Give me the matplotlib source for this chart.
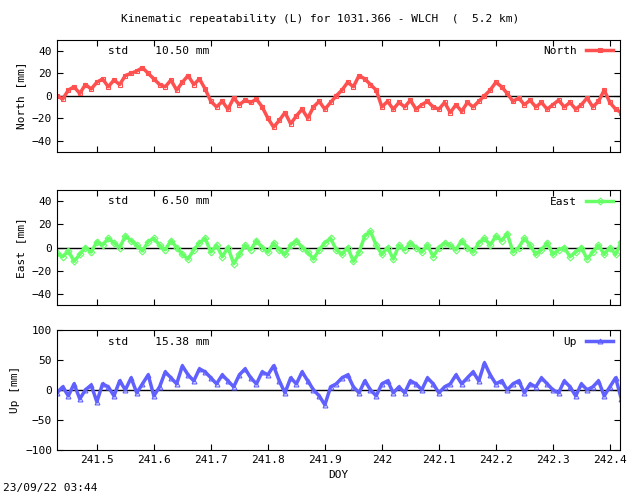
import numpy as np
import matplotlib
matplotlib.use("Agg")
import matplotlib.pyplot as plt

# day-of-year samples (one every 0.01 day)
doy = np.linspace(241.43, 242.42, 100)

north = [0, -3, 5, 8, 2, 10, 6,
         12, 15, 8, 14, 10, 18, 20, 22, 25, 20,
         15, 10, 8, 14, 5, 12, 18, 10, 15, 6,
         -5, -10, -5, -12, -2, -8, -4, -6, -3, -10,
         -20, -28, -22, -15, -25, -18, -12, -20, -10, -5,
         -12, -6, 0, 5, 12, 8, 18, 15, 10, 5,
         -10, -5, -12, -6, -10, -4, -12, -8, -5, -10,
         -12, -6, -15, -8, -14, -6, -10, -5, 0, 5,
         12, 8, 2, -5, -2, -8, -4, -10, -6, -12,
         -8, -4, -10, -6, -12, -8, -2, -10, -5, 5,
         -6, -12, -15]

east = [-5, -8, -3, -12, -6, 0, -4, 5, 2, 8,
        4, 0, 10, 6, 2, -3, 5, 8, 2, -2,
        6, 0, -6, -10, -2, 4, 8, -4, 2, -8,
        0, -14, -6, 2, -2, 6, 0, -4, 4, -2,
        -6, 2, 6, 0, -4, -10, -2, 4, 8, -2,
        -6, 0, -12, -4, 10, 14, 2, -6, 0, -10,
        2, -2, 4, 0, -4, 2, -8, 0, 4, 2,
        -2, 6, 0, -4, 4, 8, 2, 10, 6, 12,
        -4, 0, 8, 2, -6, -2, 4, -6, -2, 0,
        -8, -4, 0, -10, -4, 2, -6, 0, -6, 5]

up = [-5, 5, -10, 10, -15, 0, 8, -20, 10, 5,
      -10, 15, 0, 20, -5, 10, 25, -10, 5, 30,
      20, 10, 40, 25, 15, 35, 30, 20, 10, 25,
      15, 5, 25, 35, 20, 10, 30, 25, 40, 15,
      -5, 20, 10, 30, 15, 0, -10, -25, 5, 10,
      20, 25, 5, -5, 15, 0, -10, 10, 15, -5,
      5, -5, 15, 10, 0, 20, 10, -5, 5, 10,
      25, 10, 20, 30, 15, 45, 25, 10, 15, 0,
      10, 15, -5, 10, 5, 20, 10, 0, -5, 15,
      5, -10, 10, 0, 5, 15, -10, 5, 20, -15]

panels = [
    ("North", north, "#ff5050", "s", "10.50", (-50, 50), [-40, -20, 0, 20, 40], 0.694, 0.226),
    ("East", east, "#66ff66", "D", " 6.50", (-50, 50), [-40, -20, 0, 20, 40], 0.385, 0.232),
    ("Up", up, "#6060ff", "^", "15.38", (-100, 100), [-100, -50, 0, 50, 100], 0.093, 0.242),
]

plt.rcParams["font.family"] = "DejaVu Sans Mono"
plt.rcParams["font.size"] = 8

fig = plt.figure(figsize=(6.4, 4.96), dpi=100)
xticks = [241.5, 241.6, 241.7, 241.8, 241.9, 242.0, 242.1, 242.2, 242.3, 242.4]
xlabels = ["241.5", "241.6", "241.7", "241.8", "241.9", "242", "242.1", "242.2", "242.3", "242.4"]

for name, vals, color, marker, std, ylim, yt, bottom, height in panels:
    ax = fig.add_axes([0.089, bottom, 0.88, height])
    ax.axhline(0, color="black", lw=1)
    ax.plot(doy, vals, color=color, lw=2.5, marker=marker, ms=3.5,
            mfc="none", mec=color, mew=0.8, label=name)
    ax.set_xlim(241.43, 242.418)
    ax.set_ylim(*ylim)
    ax.set_yticks(yt)
    ax.set_xticks(xticks)
    ax.tick_params(direction="in", top=True, right=True, length=4)
    if name == "Up":
        ax.set_xticklabels(xlabels)
        ax.set_xlabel("DOY")
    else:
        ax.set_xticklabels([])
    ax.set_ylabel(name + " [mm]")
    ax.text(0.09, 0.9, "std    " + std + " mm", transform=ax.transAxes, va="center")
    ax.legend(loc="upper right", frameon=False, markerfirst=False,
              handlelength=2.5, borderaxespad=0.2)

fig.text(0.5, 0.955, "Kinematic repeatability (L) for 1031.366 - WLCH  (  5.2 km)", ha="center")
fig.text(0.005, 0.01, "23/09/22 03:44")

fig.savefig("out.png", dpi=100)
